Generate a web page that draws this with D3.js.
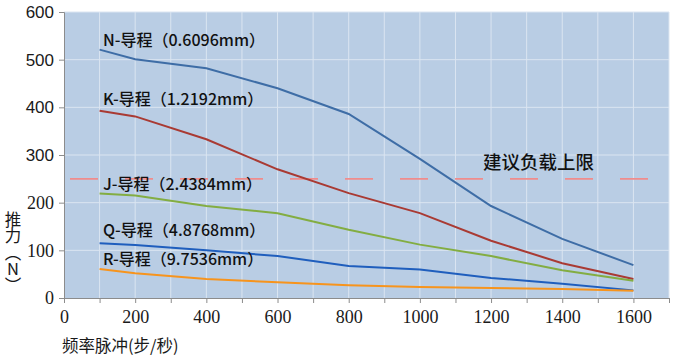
<!DOCTYPE html>
<html>
<head>
<meta charset="utf-8">
<script src="https://cdn.jsdelivr.net/npm/d3@7"></script>
<style>
  body { margin: 0; background: #fff; }
  svg { display: block; }
</style>
</head>
<body>
<div id="chart"></div>
<script>
// chart data
const freq = [100, 200, 400, 600, 800, 1000, 1200, 1400, 1600];
const seriesN = [521, 501, 482, 440, 386, 292, 193, 124, 69];
const seriesK = [393, 381, 333, 270, 220, 178, 120, 73, 40];
const seriesJ = [219, 215, 193, 178, 143, 112, 88, 58, 36];
const seriesQ = [115, 111, 100, 88, 67, 60, 42, 30, 16];
const seriesR = [61, 52, 40, 33, 27, 23, 21, 19, 15];
const seriesNames = ["N-导程（0.6096mm）", "K-导程（1.2192mm）", "J-导程（2.4384mm）", "Q-导程（4.8768mm）", "R-导程（9.7536mm）"];
const limitValue = 250;
const limitLabel = "建议负载上限";
const xTicks = [0, 200, 400, 600, 800, 1000, 1200, 1400, 1600];
const yTicks = [0, 100, 200, 300, 400, 500, 600];
const xTitle = "频率脉冲(步/秒)";
const yTitle = "推力（N）";

const W = 700, H = 361;
const plot = {left: 64, right: 669, top: 12, bottom: 298};
const serif = "'Liberation Serif', 'Times New Roman', serif";
const sans = "'Liberation Sans', Arial, sans-serif";
const cjk = "'Noto Sans CJK SC', sans-serif";

const svg = d3.select("#chart").append("svg")
    .attr("width", W)
    .attr("height", H);

const x = d3.scaleLinear().domain([0, 1700]).range([plot.left, plot.right]);
const y = d3.scaleLinear().domain([0, 600]).range([plot.bottom, plot.top]);

// plot background
svg.append("rect")
    .attr("x", plot.left).attr("y", plot.top)
    .attr("width", plot.right - plot.left).attr("height", plot.bottom - plot.top)
    .attr("fill", "#b9cde4");

// grid lines
const gx = d3.range(100, 1701, 100);
svg.append("g").selectAll("line").data(gx).join("line")
    .attr("x1", d => x(d)).attr("x2", d => x(d))
    .attr("y1", plot.top).attr("y2", plot.bottom)
    .attr("stroke", "#dbe5f1").attr("stroke-width", 1);
svg.append("g").selectAll("line").data(yTicks.slice(1)).join("line")
    .attr("x1", plot.left).attr("x2", plot.right)
    .attr("y1", d => y(d)).attr("y2", d => y(d))
    .attr("stroke", "#dbe5f1").attr("stroke-width", 1);

// axes
const xAxis = svg.append("g")
    .attr("transform", `translate(0,${plot.bottom})`)
    .call(d3.axisBottom(x).tickValues(d3.range(0, 1701, 100)).tickSize(5)
        .tickFormat(d => xTicks.includes(d) ? d : ""));
const yAxis = svg.append("g")
    .attr("transform", `translate(${plot.left},0)`)
    .call(d3.axisLeft(y).tickValues(yTicks).tickSize(5));

[xAxis, yAxis].forEach(a => {
    a.attr("font-size", 18);
    a.select(".domain").attr("stroke", "#8c8c8c");
    a.selectAll(".tick line").attr("stroke", "#8c8c8c");
    a.selectAll("text").attr("fill", "#1a1a1a");
});
xAxis.attr("font-family", serif);
xAxis.selectAll("text").attr("dy", "0.95em");
// the upper y labels look like Arial in the picture, the lower ones like Times
yAxis.attr("font-family", null);
yAxis.selectAll(".tick text")
    .attr("x", -10).attr("dy", "0.33em")
    .attr("font-family", d => d >= 300 ? sans : serif)
    .attr("font-size", d => d >= 300 ? 17 : 18);

// recommended load limit (dashed)
svg.append("line")
    .attr("x1", x(0) + 6).attr("x2", plot.right)
    .attr("y1", y(limitValue)).attr("y2", y(limitValue))
    .attr("stroke", "#f08c8c")
    .attr("stroke-width", 1.6)
    .attr("stroke-dasharray", "28,27");

// series lines
const series = [
    { values: seriesN, color: "#3e6da6" },
    { values: seriesK, color: "#a93a33" },
    { values: seriesJ, color: "#83ad42" },
    { values: seriesQ, color: "#1f5ebd" },
    { values: seriesR, color: "#f7941d" }
];
const line = d3.line()
    .x((d, i) => x(freq[i]))
    .y(d => y(d));

svg.append("g").selectAll("path").data(series).join("path")
    .attr("d", s => line(s.values))
    .attr("fill", "none")
    .attr("stroke", s => s.color)
    .attr("stroke-width", 2);

// series labels
const labelPos = [[103, 40], [103, 99], [103, 184], [103, 230], [103, 259]];
svg.append("g").selectAll("text").data(seriesNames).join("text")
    .attr("x", (d, i) => labelPos[i][0])
    .attr("y", (d, i) => labelPos[i][1])
    .attr("dy", "0.35em")
    .attr("fill", "#111")
    .attr("font-family", cjk)
    .attr("font-size", 16)
    .attr("font-weight", 500)
    .text(d => d);

svg.append("text")
    .attr("x", 483).attr("y", 163)
    .attr("dy", "0.35em")
    .attr("fill", "#111")
    .attr("font-family", cjk)
    .attr("font-size", 18.5)
    .attr("font-weight", 500)
    .text(limitLabel);

// axis titles
svg.append("text")
    .attr("x", 62).attr("y", 352)
    .attr("fill", "#1a1a1a")
    .attr("font-family", cjk)
    .attr("font-size", 16.5)
    .text(xTitle);

// y title written vertically
svg.append("text")
    .attr("x", 13).attr("y", 211)
    .attr("fill", "#1a1a1a")
    .attr("font-family", cjk)
    .attr("font-size", 16.5)
    .style("writing-mode", "vertical-rl")
    .style("text-orientation", "upright")
    .text(yTitle);
</script>
</body>
</html>
